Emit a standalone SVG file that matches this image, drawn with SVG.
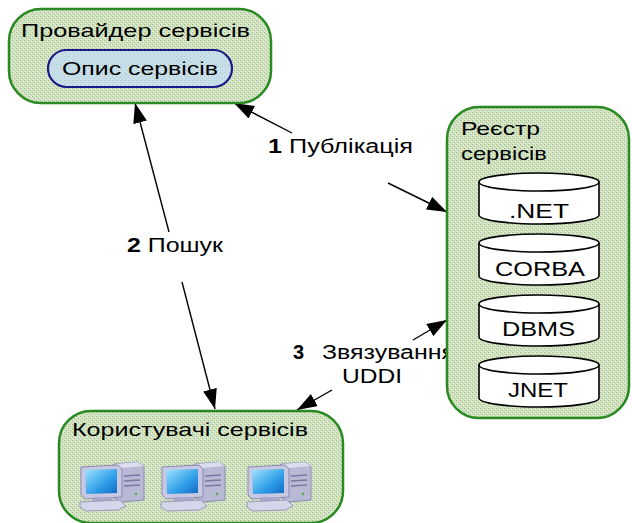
<svg xmlns="http://www.w3.org/2000/svg" width="632" height="523" viewBox="0 0 632 523">
  <style>
    .box { fill: url(#hatch); stroke: #2a8a22; stroke-width: 2.5; }
    .pill { fill: url(#hatchBlue); stroke: #1a1a88; stroke-width: 2.2; }
    .cyl { fill: #ffffff; stroke: #000000; stroke-width: 1.6; }
    .t { font-family: "Liberation Sans", Arial, sans-serif; font-size: 19px; fill: #000000; }
    .l { font-size: 20px; }
    .c { font-size: 21px; }
    .b { font-weight: bold; }
    .edge { stroke: #000000; stroke-width: 1.4; fill: none; marker-end: url(#head); }
  </style>
  <defs>
    <pattern id="hatch" width="4" height="4" patternUnits="userSpaceOnUse">
      <rect width="4" height="4" fill="#d0e2bf"/>
      <rect x="0" y="0" width="1" height="1" fill="#a3be8b"/>
      <rect x="2" y="2" width="1" height="1" fill="#a3be8b"/>
      <rect x="1" y="3" width="1" height="1" fill="#e8f1df"/>
      <rect x="3" y="1" width="1" height="1" fill="#e8f1df"/>
    </pattern>
    <pattern id="hatchBlue" width="4" height="4" patternUnits="userSpaceOnUse">
      <rect width="4" height="4" fill="#c9e0ea"/>
      <rect x="0" y="0" width="1" height="1" fill="#a9c8c6"/>
      <rect x="2" y="2" width="1" height="1" fill="#a9c8c6"/>
    </pattern>
    <linearGradient id="screen" x1="0" y1="0" x2="1" y2="1">
      <stop offset="0" stop-color="#9fe4ff"/>
      <stop offset="0.6" stop-color="#2f9ee8"/>
      <stop offset="1" stop-color="#1268c4"/>
    </linearGradient>
    <marker id="head" viewBox="0 0 20 14" refX="20" refY="7" markerWidth="20" markerHeight="14" markerUnits="userSpaceOnUse" orient="auto">
      <path d="M0,0 L20,7 L0,14 Z" fill="#000000"/>
    </marker>
    <!-- desktop computer icon: tower, monitor, base -->
    <g id="pc">
      <path d="M34,2 L58,0 L64,4 L64,38 L42,40 L34,36 Z" fill="#b9b9d6" stroke="#8a8ab0" stroke-width="1"/>
      <path d="M34,2 L58,0 L64,4 L42,6 Z" fill="#dcdcee"/>
      <line x1="44" y1="14" x2="60" y2="13" stroke="#7878a0" stroke-width="1.5"/>
      <line x1="44" y1="19" x2="60" y2="18" stroke="#7878a0" stroke-width="1.5"/>
      <line x1="44" y1="24" x2="60" y2="23" stroke="#7878a0" stroke-width="1.5"/>
      <circle cx="56" cy="32" r="1.2" fill="#4cb04c"/>
      <path d="M1,5 L38,3 L42,7 L42,35 L5,37 L1,33 Z" fill="#c8c8e2" stroke="#8a8ab0" stroke-width="1"/>
      <path d="M5,8 L37,7 L37,31 L6,32 Z" fill="url(#screen)"/>
      <path d="M14,35 L32,35 L34,40 L12,40 Z" fill="#a9a9c9"/>
      <path d="M0,40 L40,38 L46,44 L38,48 L6,49 L0,45 Z" fill="#d6d6ea" stroke="#9a9abc" stroke-width="1"/>
    </g>
  </defs>

  <!-- connectors -->
  <g id="connectors">
    <line class="edge" x1="292" y1="133" x2="234" y2="103"/>
    <line class="edge" x1="388" y1="183" x2="447" y2="212"/>
    <line class="edge" x1="169" y1="232" x2="135" y2="103"/>
    <line class="edge" x1="182" y1="282" x2="215" y2="409"/>
    <line class="edge" x1="413" y1="340" x2="447" y2="320"/>
    <line class="edge" x1="332" y1="390" x2="297" y2="410"/>
    <text class="t l" x="268" y="153" textLength="145" lengthAdjust="spacingAndGlyphs"><tspan class="b">1</tspan> Публікація</text>
    <text class="t l" x="127" y="252" textLength="96" lengthAdjust="spacingAndGlyphs"><tspan class="b">2</tspan> Пошук</text>
    <text class="t l b" x="293" y="359">3</text>
    <text class="t l" x="322" y="359" textLength="133" lengthAdjust="spacingAndGlyphs">Звязування</text>
    <text class="t l" x="342" y="383" textLength="60" lengthAdjust="spacingAndGlyphs">UDDI</text>
  </g>

  <!-- service provider -->
  <g id="provider">
    <rect class="box" x="9" y="9" width="262" height="94" rx="32" ry="32"/>
    <text class="t" x="21" y="37" textLength="229" lengthAdjust="spacingAndGlyphs">Провайдер сервісів</text>
    <g id="description">
      <rect class="pill" x="48" y="50" width="184" height="37" rx="18.5" ry="18.5"/>
      <text class="t" x="62" y="75" textLength="156" lengthAdjust="spacingAndGlyphs">Опис сервісів</text>
    </g>
  </g>

  <!-- service registry -->
  <g id="registry">
    <rect class="box" x="447" y="107" width="182" height="311" rx="32" ry="32"/>
    <text class="t" x="461" y="135" textLength="79" lengthAdjust="spacingAndGlyphs">Реєстр</text>
    <text class="t" x="461" y="160" textLength="86" lengthAdjust="spacingAndGlyphs">сервісів</text>
    <g id="db-net">
      <path class="cyl" d="M479,182 A60,9 0 0 1 599,182 L599,215 A60,9 0 0 1 479,215 Z"/>
      <path class="cyl" d="M479,182 A60,9 0 0 0 599,182" fill="none"/>
      <text class="t c" x="509" y="218" textLength="60" lengthAdjust="spacingAndGlyphs">.NET</text>
    </g>
    <g id="db-corba">
      <path class="cyl" d="M479,243 A60,9 0 0 1 599,243 L599,276 A60,9 0 0 1 479,276 Z"/>
      <path class="cyl" d="M479,243 A60,9 0 0 0 599,243" fill="none"/>
      <text class="t c" x="495" y="276" textLength="90" lengthAdjust="spacingAndGlyphs">CORBA</text>
    </g>
    <g id="db-dbms">
      <path class="cyl" d="M479,304 A60,9 0 0 1 599,304 L599,337 A60,9 0 0 1 479,337 Z"/>
      <path class="cyl" d="M479,304 A60,9 0 0 0 599,304" fill="none"/>
      <text class="t c" x="502" y="336" textLength="73" lengthAdjust="spacingAndGlyphs">DBMS</text>
    </g>
    <g id="db-jnet">
      <path class="cyl" d="M479,365 A60,9 0 0 1 599,365 L599,398 A60,9 0 0 1 479,398 Z"/>
      <path class="cyl" d="M479,365 A60,9 0 0 0 599,365" fill="none"/>
      <text class="t c" x="508" y="397" textLength="60" lengthAdjust="spacingAndGlyphs">JNET</text>
    </g>
  </g>

  <!-- service consumers -->
  <g id="consumers">
    <rect class="box" x="59" y="411" width="284" height="112" rx="32" ry="32"/>
    <text class="t" x="72" y="436" textLength="236" lengthAdjust="spacingAndGlyphs">Користувачі сервісів</text>
    <use href="#pc" x="80" y="462"/>
    <use href="#pc" x="161" y="462"/>
    <use href="#pc" x="247" y="462"/>
  </g>
</svg>
